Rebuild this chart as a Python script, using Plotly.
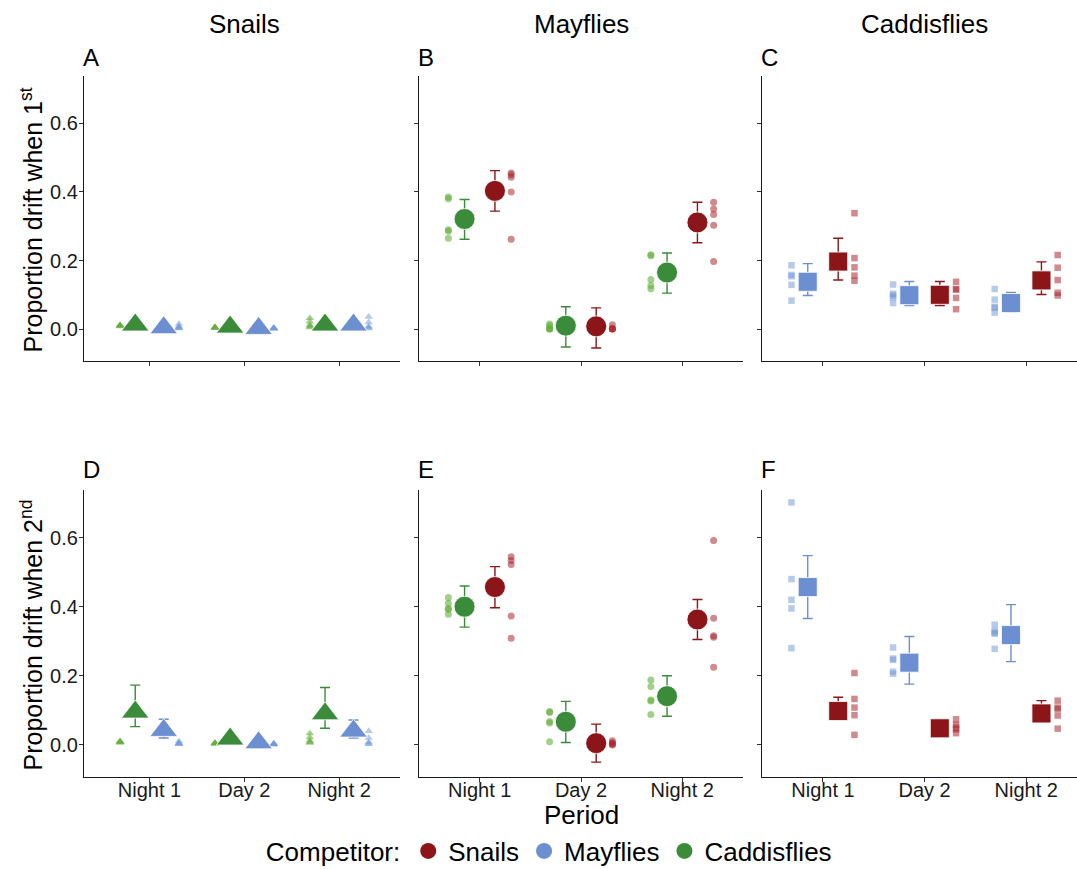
import plotly.graph_objects as go

# ---------------- data ----------------
periods = ["Night 1", "Day 2", "Night 2"]
focal_taxa = ["Snails", "Mayflies", "Caddisflies"]
competitor_names = ["Snails", "Mayflies", "Caddisflies"]
row_titles = ["Proportion drift when 1<sup>st</sup>", "Proportion drift when 2<sup>nd</sup>"]
panel_letters = ["A", "B", "C", "D", "E", "F"]
y_ticks = [0.0, 0.2, 0.4, 0.6]

# Panel A: Snails focal, 1st  (competitors Caddisflies | Mayflies)
A_cad_mean = [0.012, 0.006, 0.012]
A_cad_lo = [0.004, 0.000, 0.004]
A_cad_hi = [0.020, 0.012, 0.020]
A_cad_pts = [[0.008, 0.010, 0.012, 0.010, 0.010],
             [0.003, 0.005, 0.004, 0.006, 0.004],
             [0.032, 0.022, 0.012, 0.008, 0.005]]
A_may_mean = [0.004, 0.002, 0.012]
A_may_lo = [0.000, 0.000, 0.004]
A_may_hi = [0.010, 0.006, 0.020]
A_may_pts = [[0.015, 0.008, 0.005, 0.003, 0.002],
             [0.004, 0.003, 0.002, 0.002, 0.001],
             [0.036, 0.020, 0.008, 0.004, 0.002]]

# Panel B: Mayflies focal, 1st  (competitors Caddisflies | Snails)
B_cad_mean = [0.321, 0.010, 0.165]
B_cad_lo = [0.262, -0.052, 0.105]
B_cad_hi = [0.378, 0.065, 0.222]
B_cad_pts = [[0.385, 0.380, 0.290, 0.285, 0.265],
             [0.015, 0.010, 0.000, 0.000, 0.002],
             [0.217, 0.214, 0.145, 0.127, 0.118]]
B_sna_mean = [0.403, 0.008, 0.311]
B_sna_lo = [0.344, -0.055, 0.252]
B_sna_hi = [0.462, 0.062, 0.370]
B_sna_pts = [[0.455, 0.450, 0.443, 0.400, 0.262],
             [0.013, 0.000, 0.000, 0.002, 0.000],
             [0.370, 0.350, 0.334, 0.303, 0.197]]

# Panel C: Caddisflies focal, 1st  (competitors Mayflies | Snails)
C_may_mean = [0.138, 0.099, 0.076]
C_may_lo = [0.098, 0.069, 0.050]
C_may_hi = [0.191, 0.139, 0.107]
C_may_pts = [[0.186, 0.158, 0.154, 0.129, 0.083],
             [0.130, 0.103, 0.098, 0.093, 0.076],
             [0.117, 0.086, 0.065, 0.062, 0.048]]
C_sna_mean = [0.197, 0.100, 0.142]
C_sna_lo = [0.143, 0.069, 0.101]
C_sna_hi = [0.265, 0.139, 0.196]
C_sna_pts = [[0.338, 0.207, 0.180, 0.156, 0.141],
             [0.138, 0.117, 0.115, 0.091, 0.058],
             [0.216, 0.179, 0.143, 0.106, 0.098]]

# Panel D: Snails focal, 2nd  (competitors Caddisflies | Mayflies)
D_cad_mean = [0.095, 0.017, 0.090]
D_cad_lo = [0.053, 0.008, 0.048]
D_cad_hi = [0.173, 0.028, 0.166]
D_cad_pts = [[0.010, 0.008, 0.006, 0.010, 0.008],
             [0.005, 0.004, 0.006, 0.003, 0.005],
             [0.033, 0.022, 0.012, 0.008, 0.006]]
D_may_mean = [0.042, 0.006, 0.040]
D_may_lo = [0.020, 0.000, 0.020]
D_may_hi = [0.074, 0.012, 0.072]
D_may_pts = [[0.010, 0.006, 0.004, 0.003, 0.002],
             [0.004, 0.003, 0.002, 0.002, 0.001],
             [0.040, 0.020, 0.008, 0.004, 0.002]]

# Panel E: Mayflies focal, 2nd  (competitors Caddisflies | Snails)
E_cad_mean = [0.400, 0.067, 0.141]
E_cad_lo = [0.341, 0.007, 0.083]
E_cad_hi = [0.460, 0.126, 0.200]
E_cad_pts = [[0.427, 0.410, 0.395, 0.393, 0.378],
             [0.097, 0.094, 0.068, 0.063, 0.009],
             [0.188, 0.169, 0.130, 0.127, 0.088]]
E_sna_mean = [0.457, 0.005, 0.363]
E_sna_lo = [0.397, -0.050, 0.305]
E_sna_hi = [0.516, 0.060, 0.421]
E_sna_pts = [[0.545, 0.534, 0.522, 0.373, 0.309],
             [0.012, 0.006, 0.004, 0.000, 0.002],
             [0.592, 0.367, 0.316, 0.312, 0.225]]

# Panel F: Caddisflies focal, 2nd  (competitors Mayflies | Snails)
F_may_mean = [0.457, 0.238, 0.318]
F_may_lo = [0.366, 0.176, 0.241]
F_may_hi = [0.548, 0.314, 0.406]
F_may_pts = [[0.702, 0.480, 0.420, 0.395, 0.280],
             [0.282, 0.250, 0.246, 0.212, 0.206],
             [0.348, 0.330, 0.325, 0.322, 0.278]]
F_sna_mean = [0.098, 0.048, 0.091]
F_sna_lo = [0.080, 0.035, 0.078]
F_sna_hi = [0.138, 0.060, 0.128]
F_sna_pts = [[0.208, 0.133, 0.108, 0.086, 0.029],
             [0.074, 0.058, 0.050, 0.045, 0.034],
             [0.128, 0.108, 0.104, 0.085, 0.047]]

# ---------------- styling ----------------
FONT = "Liberation Sans, Arial, Helvetica, sans-serif"
col_main = {"Snails": "#8b1518", "Mayflies": "#6b8fd0", "Caddisflies": "#3a8b3a"}
col_small = {"Snails": "rgba(170,40,48,0.55)", "Mayflies": "rgba(110,150,215,0.5)",
             "Caddisflies": "rgba(100,175,60,0.6)"}
symbol_of = {"Snails": "triangle-up", "Mayflies": "circle", "Caddisflies": "square"}
big_size = {"triangle-up": 24, "circle": 21, "square": 19}
small_size = {"triangle-up": 7.5, "circle": 7, "square": 6.5}

DODGE = 0.15
PTS_OFF = 0.31

W, H = 1077, 869


def fy(px):
    return 1 - px / H


col_dom = [(84 / W, 400 / W), (419 / W, 743 / W), (762 / W, 1.0)]
row_dom = [(fy(361), fy(76)), (fy(777), fy(490))]
col_xrange = [[0.31, 3.64], [0.4, 3.6], [0.4, 3.5]]
y_range = [-0.093, 0.738]

TICK_FS = 20
TITLE_FS = 26

panels = [
    ("A", 0, 0, [("Caddisflies", A_cad_mean, A_cad_lo, A_cad_hi, A_cad_pts),
                 ("Mayflies", A_may_mean, A_may_lo, A_may_hi, A_may_pts)]),
    ("B", 0, 1, [("Caddisflies", B_cad_mean, B_cad_lo, B_cad_hi, B_cad_pts),
                 ("Snails", B_sna_mean, B_sna_lo, B_sna_hi, B_sna_pts)]),
    ("C", 0, 2, [("Mayflies", C_may_mean, C_may_lo, C_may_hi, C_may_pts),
                 ("Snails", C_sna_mean, C_sna_lo, C_sna_hi, C_sna_pts)]),
    ("D", 1, 0, [("Caddisflies", D_cad_mean, D_cad_lo, D_cad_hi, D_cad_pts),
                 ("Mayflies", D_may_mean, D_may_lo, D_may_hi, D_may_pts)]),
    ("E", 1, 1, [("Caddisflies", E_cad_mean, E_cad_lo, E_cad_hi, E_cad_pts),
                 ("Snails", E_sna_mean, E_sna_lo, E_sna_hi, E_sna_pts)]),
    ("F", 1, 2, [("Mayflies", F_may_mean, F_may_lo, F_may_hi, F_may_pts),
                 ("Snails", F_sna_mean, F_sna_lo, F_sna_hi, F_sna_pts)]),
]

fig = go.Figure()
layout = dict(
    width=W, height=H,
    margin=dict(l=0, r=0, t=0, b=0, autoexpand=False),
    paper_bgcolor="white", plot_bgcolor="white",
    font=dict(family=FONT, color="black"),
    showlegend=True,
)

annotations = []
for k, (letter, r, c, groups) in enumerate(panels):
    idx = k + 1
    xa = "x" if idx == 1 else f"x{idx}"
    ya = "y" if idx == 1 else f"y{idx}"
    focal = focal_taxa[c]
    sym = symbol_of[focal]
    for g, (comp, mean, lo, hi, pts) in enumerate(groups):
        side = -1 if g == 0 else 1
        # individual replicate points
        px, py = [], []
        for i, vals in enumerate(pts):
            for v in vals:
                px.append(i + 1 + side * PTS_OFF)
                py.append(v)
        fig.add_trace(go.Scatter(
            x=px, y=py, xaxis=xa, yaxis=ya, mode="markers", showlegend=False,
            marker=dict(symbol=sym, size=small_size[sym], color=col_small[comp],
                        line=dict(width=0)),
            hoverinfo="skip"))
        # means with error bars
        mx = [i + 1 + side * DODGE for i in range(len(periods))]
        fig.add_trace(go.Scatter(
            x=mx, y=mean, xaxis=xa, yaxis=ya, mode="markers", showlegend=False,
            marker=dict(symbol=sym, size=big_size[sym], color=col_main[comp],
                        line=dict(width=1, color="rgba(255,255,255,0.8)")),
            error_y=dict(type="data", symmetric=False,
                         array=[h - m for h, m in zip(hi, mean)],
                         arrayminus=[m - l for m, l in zip(mean, lo)],
                         color=col_main[comp], thickness=1.4, width=5),
            hoverinfo="skip"))

    layout["xaxis" if idx == 1 else f"xaxis{idx}"] = dict(
        domain=list(col_dom[c]), anchor=ya, range=col_xrange[c],
        tickvals=[1, 2, 3], ticktext=periods, showticklabels=(r == 1),
        showline=True, linecolor="#1a1a1a", linewidth=1.3,
        ticks="outside", ticklen=4, tickwidth=1, tickcolor="#333333",
        ticklabelstandoff=-9,
        showgrid=False, zeroline=False,
        tickfont=dict(family=FONT, size=TICK_FS, color="#1a1a1a"),
        fixedrange=True)
    layout["yaxis" if idx == 1 else f"yaxis{idx}"] = dict(
        domain=list(row_dom[r]), anchor=xa, range=y_range,
        tickvals=y_ticks, tickformat=".1f", showticklabels=(c == 0),
        showline=True, linecolor="#1a1a1a", linewidth=1.3,
        ticks="outside", ticklen=4, tickwidth=1, tickcolor="#333333",
        ticklabelstandoff=-3,
        showgrid=False, zeroline=False,
        tickfont=dict(family=FONT, size=TICK_FS, color="#1a1a1a"),
        fixedrange=True)

    # panel letter
    annotations.append(dict(
        text=letter, xref="paper", yref="paper",
        x=col_dom[c][0] - 3 / W, y=fy(57 if r == 0 else 470),
        xanchor="left", yanchor="middle", showarrow=False,
        font=dict(family=FONT, size=24, color="black")))

# column titles
title_x = [244, 581, 924]
for c, name in enumerate(focal_taxa):
    annotations.append(dict(
        text=name, xref="paper", yref="paper", x=title_x[c] / W, y=fy(24),
        xanchor="center", yanchor="middle", showarrow=False,
        font=dict(family=FONT, size=TITLE_FS, color="black")))

# row (y-axis) titles
row_center = [(80 + 361) / 2, (494 + 777) / 2]
for r, t in enumerate(row_titles):
    annotations.append(dict(
        text=t, xref="paper", yref="paper", x=31 / W, y=fy(row_center[r]),
        xanchor="center", yanchor="middle", textangle=-90, showarrow=False,
        font=dict(family=FONT, size=25, color="black")))

# x-axis title
annotations.append(dict(
    text="Period", xref="paper", yref="paper", x=581 / W, y=fy(815),
    xanchor="center", yanchor="middle", showarrow=False,
    font=dict(family=FONT, size=TITLE_FS, color="black")))

layout["annotations"] = annotations

# legend entries
for comp in competitor_names:
    fig.add_trace(go.Scatter(
        x=[None], y=[None], mode="markers", name=comp,
        marker=dict(symbol="circle", size=20, color=col_main[comp]),
        showlegend=True))

layout["legend"] = dict(
    orientation="h", x=0.511, xanchor="center", y=fy(851), yanchor="middle",
    title=dict(text="Competitor:", font=dict(family=FONT, size=26, color="black")),
    font=dict(family=FONT, size=26, color="black"),
    itemsizing="trace", bgcolor="rgba(0,0,0,0)", tracegroupgap=0)

fig.update_layout(**layout)
fig.write_html("out.html", config={"displayModeBar": False})

# remove the browser's default page margin so the figure sits at (0, 0)
with open("out.html", "r", encoding="utf-8") as fh:
    html = fh.read()
html = html.replace("<body>", '<body style="margin:0;padding:0;overflow:hidden">', 1)
with open("out.html", "w", encoding="utf-8") as fh:
    fh.write(html)
